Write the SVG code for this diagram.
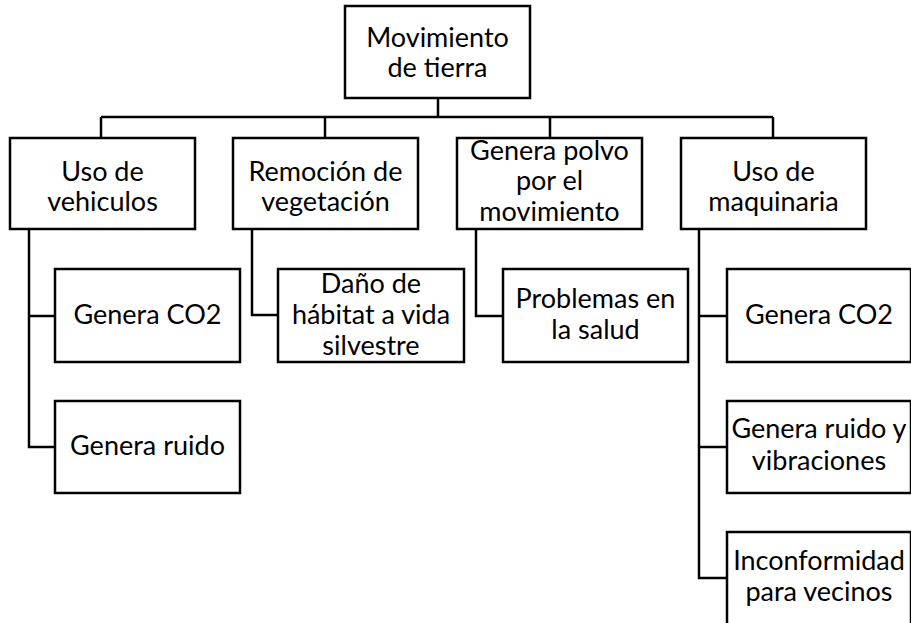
<svg xmlns="http://www.w3.org/2000/svg" width="911" height="623" viewBox="0 0 911 623">
<style>
.box{fill:#fff;stroke:#000;stroke-width:2.5}
.lbl{font-family:Lato,"Noto Sans",sans-serif;font-size:27px;fill:#000;text-anchor:middle}
.con{fill:none;stroke:#000;stroke-width:2.5}
</style>
<rect width="911" height="623" fill="#fff"/>
<g id="connectors" class="con">
<path d="M438 98V117M101 117H773M101 117V138M325 117V138M550 117V138M773 117V138"/>
<path d="M29 229V447H55M29 316H55"/>
<path d="M252 229V315H278"/>
<path d="M476 229V316H503"/>
<path d="M699 229V578H727M699 316H727M699 447H727"/>
</g>
<g id="root"><rect class="box" x="345" y="6" width="185" height="92"/><text class="lbl" x="437.5" y="47">Movimiento</text><text class="lbl" x="437.5" y="77">de tierra</text></g>
<g id="n1"><rect class="box" x="10" y="138" width="185" height="91"/><text class="lbl" x="102.5" y="181">Uso de</text><text class="lbl" x="102.5" y="211">vehiculos</text></g>
<g id="n2"><rect class="box" x="233" y="138" width="185" height="91"/><text class="lbl" x="325.5" y="181">Remoción de</text><text class="lbl" x="325.5" y="211">vegetación</text></g>
<g id="n3"><rect class="box" x="457" y="138" width="185" height="91"/><text class="lbl" x="549.5" y="160">Genera polvo</text><text class="lbl" x="549.5" y="190">por el</text><text class="lbl" x="549.5" y="221">movimiento</text></g>
<g id="n4"><rect class="box" x="681" y="138" width="185" height="91"/><text class="lbl" x="773.5" y="181">Uso de</text><text class="lbl" x="773.5" y="211">maquinaria</text></g>
<g id="n1a"><rect class="box" x="55" y="269" width="185" height="93"/><text class="lbl" x="147.5" y="324">Genera CO2</text></g>
<g id="n1b"><rect class="box" x="55" y="401" width="185" height="92"/><text class="lbl" x="147.5" y="455">Genera ruido</text></g>
<g id="n2a"><rect class="box" x="278" y="269" width="186" height="93"/><text class="lbl" x="371" y="293">Daño de</text><text class="lbl" x="371" y="324">hábitat a vida</text><text class="lbl" x="371" y="355">silvestre</text></g>
<g id="n3a"><rect class="box" x="503" y="269" width="185" height="93"/><text class="lbl" x="595.5" y="308">Problemas en</text><text class="lbl" x="595.5" y="339">la salud</text></g>
<g id="n4a"><rect class="box" x="727" y="269" width="184" height="93"/><text class="lbl" x="819" y="324">Genera CO2</text></g>
<g id="n4b"><rect class="box" x="727" y="401" width="184" height="92"/><text class="lbl" x="819" y="438">Genera ruido y</text><text class="lbl" x="819" y="470">vibraciones</text></g>
<g id="n4c"><rect class="box" x="727" y="532" width="184" height="100"/><text class="lbl" x="819" y="570">Inconformidad</text><text class="lbl" x="819" y="601">para vecinos</text></g>
</svg>
